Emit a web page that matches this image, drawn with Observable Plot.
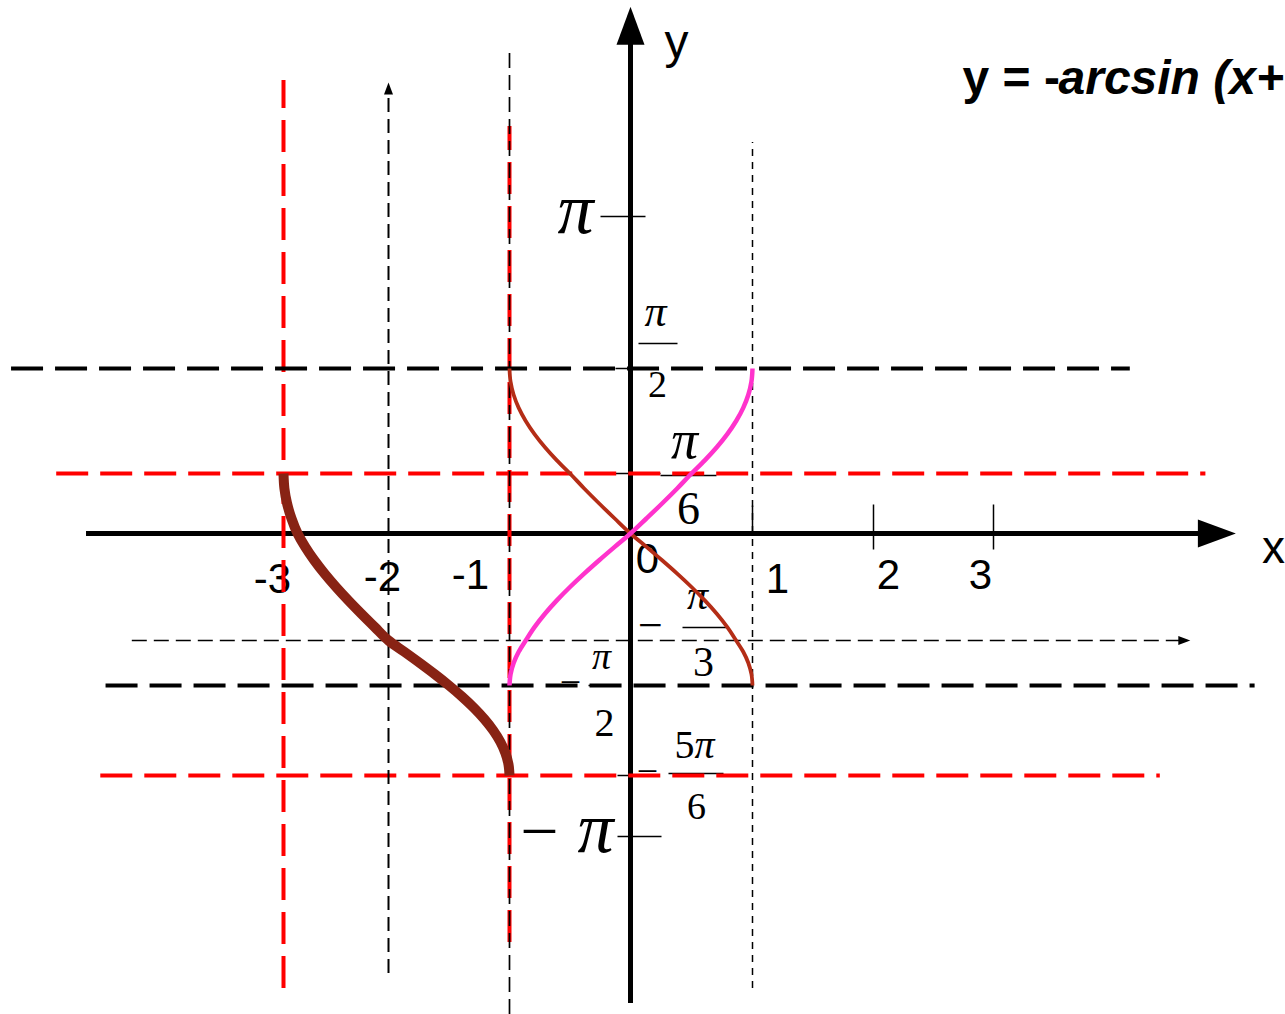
<!DOCTYPE html>
<html><head><meta charset="utf-8">
<script src="https://cdn.jsdelivr.net/npm/d3@7"></script>
<script src="https://cdn.jsdelivr.net/npm/@observablehq/plot@0.6"></script>
<style>html,body{margin:0;padding:0;overflow:hidden;background:#fff}#chart svg{display:block}</style>
</head><body><div id="chart"></div>
<script>
const PI = Math.PI;

// ---- data (math units) ----
const xTickValues = [-3, -2, -1, 0, 1, 2, 3];
const xTickLabels = ["-3", "-2", "-1", "0", "1", "2", "3"];
const yLevels = [-PI, -5 * PI / 6, -PI / 2, -PI / 3, 0, PI / 6, PI / 2, PI];

// y = arcsin(x)
const arcsinX = [-1, -0.9914, -0.9659, -0.9239, -0.8660, -0.7934, -0.7071, -0.6088, -0.5, -0.3827, -0.2588, -0.1305, 0,
  0.1305, 0.2588, 0.3827, 0.5, 0.6088, 0.7071, 0.7934, 0.8660, 0.9239, 0.9659, 0.9914, 1];
const arcsinY = [-1.5708, -1.4399, -1.3090, -1.1781, -1.0472, -0.9163, -0.7854, -0.6545, -0.5236, -0.3927, -0.2618, -0.1309, 0,
  0.1309, 0.2618, 0.3927, 0.5236, 0.6545, 0.7854, 0.9163, 1.0472, 1.1781, 1.3090, 1.4399, 1.5708];
// y = -arcsin(x)
const negArcsinX = [-1, -0.9914, -0.9659, -0.9239, -0.8660, -0.7934, -0.7071, -0.6088, -0.5, -0.3827, -0.2588, -0.1305, 0,
  0.1305, 0.2588, 0.3827, 0.5, 0.6088, 0.7071, 0.7934, 0.8660, 0.9239, 0.9659, 0.9914, 1];
const negArcsinY = [1.5708, 1.4399, 1.3090, 1.1781, 1.0472, 0.9163, 0.7854, 0.6545, 0.5236, 0.3927, 0.2618, 0.1309, 0,
  -0.1309, -0.2618, -0.3927, -0.5236, -0.6545, -0.7854, -0.9163, -1.0472, -1.1781, -1.3090, -1.4399, -1.5708];
// y = -arcsin(x+2) - pi/3
const shiftedX = [-3, -2.9914, -2.9659, -2.9239, -2.8660, -2.7934, -2.7071, -2.6088, -2.5, -2.3827, -2.2588, -2.1305, -2,
  -1.8695, -1.7412, -1.6173, -1.5, -1.3912, -1.2929, -1.2066, -1.1340, -1.0761, -1.0341, -1.0086, -1];
const shiftedY = [0.5236, 0.3927, 0.2618, 0.1309, 0, -0.1309, -0.2618, -0.3927, -0.5236, -0.6545, -0.7854, -0.9163, -1.0472,
  -1.1781, -1.3090, -1.4399, -1.5708, -1.7017, -1.8326, -1.9635, -2.0944, -2.2253, -2.3562, -2.4871, -2.6180];

// guide lines (math units)
const blackDashY = [PI / 2, -PI / 2];
const blackDashX1 = [-5.59, -4.69];
const blackDashX2 = [4.14, 5.18];
const redDashY = [PI / 6, -5 * PI / 6];
const redDashX1 = [-5.16, -4.74];
const redDashX2 = [4.77, 4.39];
const redVertX = [-3, -1];
const redVertY1 = [-4.446, -4.051];
const redVertY2 = [4.546, 4.071];
const axisX = [-4.876, 4.726, 5.02];   // x-axis start, end, arrow tip
const axisY = [-4.575, 4.92, 5.31];    // y-axis start, end, arrow tip
const arrowLineY = [-PI / 3, -4.44, 4.55, 4.64];  // y, x1, x2, tip
const arrowLineX = [-2, -4.318, 4.41, 4.526];     // x, y1, y2, tip
const thinLineX = [-1, -4.67, 4.856];
const dotLineX = [1, -4.446, 3.906];
const title = ["y = -", "arcsin (x+"];

// ---- helpers ----
const seg = (x0, y0, x1, y1) => ({draw(c) { c.moveTo(x0, y0); c.lineTo(x1, y1); }});
const tri = (a, b, c3) => ({draw(c) { c.moveTo(a[0], a[1]); c.lineTo(b[0], b[1]); c.lineTo(c3[0], c3[1]); c.closePath(); }});
const pts = (xs, ys) => xs.map((x, i) => ({x, y: ys[i]}));
const sym = (x, y, symbol, opts = {}) => Plot.dot([{x, y}], {x: "x", y: "y", symbol, r: 1, fill: "none", stroke: "black", strokeWidth: 1.5, ...opts});
const SERIF = "'Liberation Serif', 'Times New Roman', serif";
const SANS = "'Liberation Sans', Arial, sans-serif";
const lab = (t, x, y, dx, dy, size, opts = {}) => Plot.text([{x, y, t}], {x: "x", y: "y", text: "t", dx, dy, fontSize: size, lineAnchor: "bottom", textAnchor: "middle", fontFamily: SERIF, fill: "black", ...opts});

const marks = [];

// axes
marks.push(Plot.ruleY([0], {x1: axisX[0], x2: axisX[1], stroke: "black", strokeWidth: 5}));
marks.push(sym(axisX[2], 0, tri([0, 0], [-38, -14], [-38, 14]), {fill: "black", stroke: "none"}));
marks.push(Plot.ruleX([0], {y1: axisY[0], y2: axisY[1], stroke: "black", strokeWidth: 5}));
marks.push(sym(0, axisY[2], tri([0, 0], [-14, 38], [14, 38]), {fill: "black", stroke: "none"}));

// x ticks
marks.push(sym(1, 0, seg(0, -28, 0, 0)));
marks.push(sym(2, 0, seg(0, -29, 0, 16)));
marks.push(sym(3, 0, seg(0, -29, 0, 16)));
// y ticks
marks.push(sym(0, yLevels[7], seg(-30, 0, 15, 0)));
marks.push(sym(0, yLevels[6], seg(-15, 0, 0, 0)));
marks.push(sym(0, yLevels[5], seg(-30, 0, 30, 0)));
marks.push(sym(0, yLevels[1], seg(-13, 0, 0, 0)));
marks.push(sym(0, yLevels[0], seg(-13, 0, 31, 0)));
// fraction bars
marks.push(sym(0, yLevels[6], seg(8, -25, 47, -25)));
marks.push(sym(0, yLevels[5], seg(30, 2, 86, 2)));
marks.push(sym(0, yLevels[3], seg(52, -13, 97, -13)));
marks.push(sym(0, yLevels[2], seg(-42, 0, -10, 0)));
marks.push(sym(0, yLevels[1], seg(38, -2, 93, -2)));

// x tick labels
const xLabDx = [-11, -6, -39, 17, 25, 15, -13];
const xLabDy = [59, 57, 55, 39, 59, 55, 55];
xTickValues.forEach((v, i) => marks.push(lab(xTickLabels[i], v, 0, xLabDx[i], xLabDy[i], 42, {fontFamily: SANS})));

// axis names
marks.push(lab("y", 0, axisY[2], 46, 51, 48, {fontFamily: SANS}));
marks.push(lab("x", axisX[2], 0, 26, 29, 46, {fontFamily: SANS, textAnchor: "start"}));

// y labels
const it = {fontStyle: "italic"};
marks.push(lab("π", 0, yLevels[7], -55, 16, 72, it));
marks.push(lab("−", 0, yLevels[0], -91, 17, 68));
marks.push(lab("π", 0, yLevels[0], -35, 15, 72, it));
marks.push(lab("π", 0, yLevels[6], 25, -43, 44, it));
marks.push(lab("2", 0, yLevels[6], 27, 28, 38));
marks.push(lab("π", 0, yLevels[5], 54, -16, 54, it));
marks.push(lab("6", 0, yLevels[5], 58, 50, 46));
marks.push(lab("−", 0, yLevels[3], 20, -1, 44));
marks.push(lab("π", 0, yLevels[3], 67, -32, 42, it));
marks.push(lab("3", 0, yLevels[3], 73, 35, 42));
marks.push(lab("−", 0, yLevels[2], -60, 9, 38));
marks.push(lab("π", 0, yLevels[2], -29, -17, 38, it));
marks.push(lab("2", 0, yLevels[2], -26, 50, 40));
marks.push(lab("−", 0, yLevels[1], 17, 8, 38));
marks.push(lab("5", 0, yLevels[1], 54, -18, 40));
marks.push(lab("π", 0, yLevels[1], 74, -18, 40, it));
marks.push(lab("6", 0, yLevels[1], 66, 43, 38));

// guide lines
marks.push(Plot.ruleY(redDashY.map((y, i) => ({y, x1: redDashX1[i], x2: redDashX2[i]})), {y: "y", x1: "x1", x2: "x2", stroke: "#ff0000", strokeWidth: 4, strokeDasharray: "32,12"}));
marks.push(Plot.ruleX(redVertX.map((x, i) => ({x, y1: redVertY1[i], y2: redVertY2[i]})), {x: "x", y1: "y1", y2: "y2", stroke: "#ff0000", strokeWidth: 4, strokeDasharray: "32,12"}));
marks.push(Plot.ruleY(blackDashY.map((y, i) => ({y, x1: blackDashX1[i], x2: blackDashX2[i]})), {y: "y", x1: "x1", x2: "x2", stroke: "black", strokeWidth: 4, strokeDasharray: "32,12"}));
marks.push(Plot.ruleY([arrowLineY[0]], {x1: arrowLineY[1], x2: arrowLineY[2], stroke: "black", strokeWidth: 1.5, strokeDasharray: "15,7"}));
marks.push(sym(arrowLineY[3], arrowLineY[0], tri([0, 0], [-12, -4.5], [-12, 4.5]), {fill: "black", stroke: "none"}));
marks.push(Plot.ruleX([arrowLineX[0]], {y1: arrowLineX[1], y2: arrowLineX[2], stroke: "black", strokeWidth: 2, strokeDasharray: "14,7"}));
marks.push(sym(arrowLineX[0], arrowLineX[3], tri([0, 0], [-4.5, 12], [4.5, 12]), {fill: "black", stroke: "none"}));
marks.push(Plot.ruleX([thinLineX[0]], {y1: thinLineX[1], y2: thinLineX[2], stroke: "black", strokeWidth: 1.7, strokeDasharray: "15,7"}));
marks.push(Plot.ruleX([dotLineX[0]], {y1: dotLineX[1], y2: dotLineX[2], stroke: "black", strokeWidth: 1.5, strokeDasharray: "7,6"}));

// curves
marks.push(Plot.line(pts(negArcsinX, negArcsinY), {x: "x", y: "y", curve: "monotone-y", stroke: "#b42d16", strokeWidth: 3.8, strokeLinecap: "butt"}));
marks.push(Plot.line(pts(arcsinX, arcsinY), {x: "x", y: "y", curve: "monotone-y", stroke: "#ff33cc", strokeWidth: 4.5, strokeLinecap: "butt"}));
marks.push(Plot.line(pts(shiftedX, shiftedY), {x: "x", y: "y", curve: "monotone-y", stroke: "#882314", strokeWidth: 10, strokeLinecap: "butt"}));

// title
const tOpt = {frameAnchor: "top-left", dy: 93, lineAnchor: "bottom", textAnchor: "start", fontFamily: SANS, fontWeight: "bold", fontSize: 48, fill: "black"};
marks.push(Plot.text([title[0]], {...tOpt, dx: 962}));
marks.push(Plot.text([title[1]], {...tOpt, dx: 1058, fontStyle: "italic"}));

const chart = Plot.plot({
  width: 1285,
  height: 1014,
  margin: 0,
  x: {type: "linear", domain: xTickValues, range: [283, 388, 509, 630, 752, 873, 993], axis: null},
  y: {type: "linear", domain: yLevels, range: [836, 775, 685, 640, 533, 473, 368, 216], axis: null},
  style: {background: "white", overflow: "hidden"},
  marks
});
document.getElementById("chart").append(chart);
</script>
</body></html>
